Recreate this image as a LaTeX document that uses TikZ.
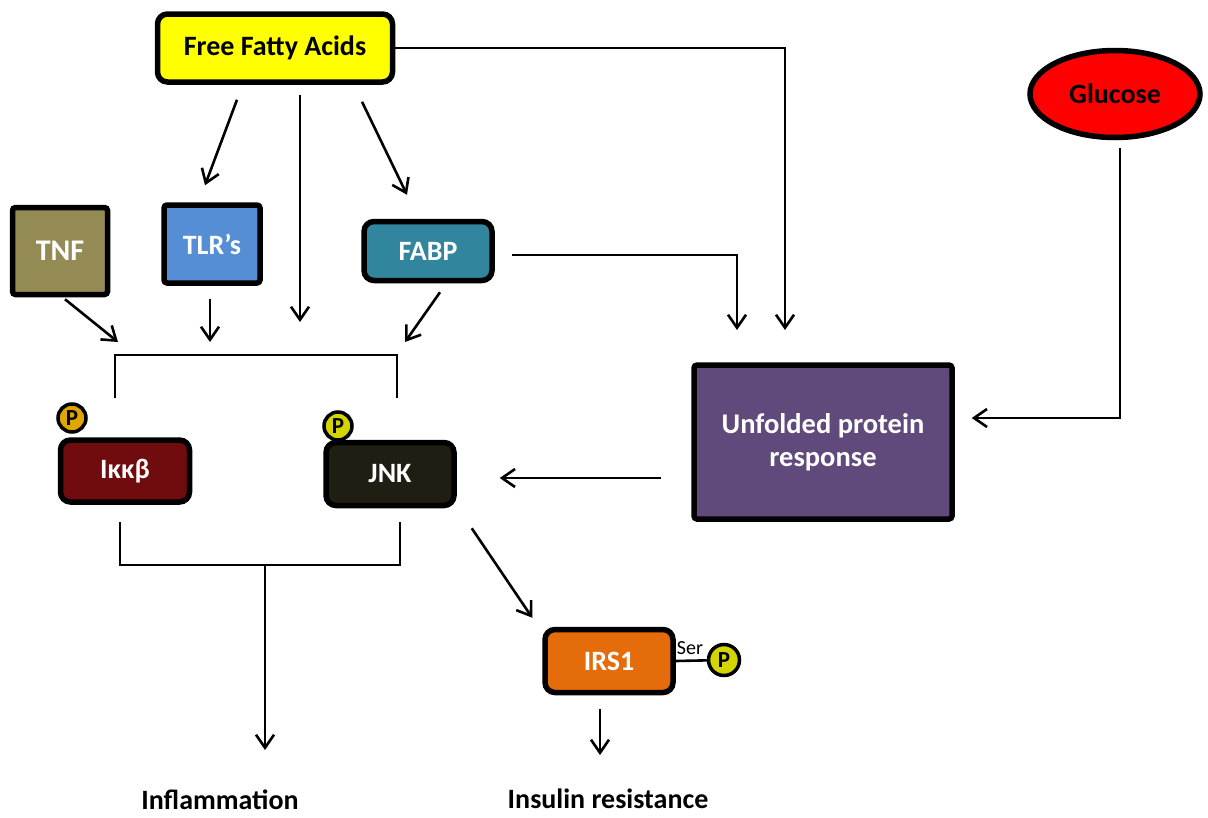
\documentclass[tikz,border=0pt]{standalone}
\usepackage{fontspec}
\setmainfont{Carlito}
\usetikzlibrary{arrows.meta,shapes.geometric}

\definecolor{ffacol}{RGB}{255,255,0}
\definecolor{glucol}{RGB}{255,0,0}
\definecolor{tnfcol}{RGB}{148,138,84}
\definecolor{tlrcol}{RGB}{85,142,213}
\definecolor{fabpcol}{RGB}{49,133,156}
\definecolor{uprcol}{RGB}{96,74,123}
\definecolor{ikkcol}{RGB}{112,12,14}
\definecolor{jnkcol}{RGB}{32,29,18}
\definecolor{irscol}{RGB}{228,108,10}
\definecolor{pgold}{RGB}{225,165,0}
\definecolor{pyel}{RGB}{212,212,0}

\tikzset{
  box/.style={draw=black, line width=5.5pt, rounded corners=10pt, text=white,
    font=\bfseries\fontsize{28}{32}\selectfont},
  sqbox/.style={box, rounded corners=3pt},
  pbubble/.style={circle, draw=black, line width=3.5pt, inner sep=0pt,
    minimum size=28pt, font=\bfseries\fontsize{23}{25}\selectfont},
  outtext/.style={inner sep=1pt, font=\bfseries\fontsize{28}{32}\selectfont},
  line/.style={line width=2.6pt},
  arr/.style={line, -{Straight Barb[length=13pt,width=18pt]}}
}

\begin{document}
\begin{tikzpicture}[x=1pt,y=-1pt]
\useasboundingbox (0,0) rectangle (1208,817);

% Top sources
\node[box, fill=ffacol, text=black, minimum width=235pt, minimum height=68pt] (ffa) at (275,48) {Free Fatty Acids};
\node[ellipse, draw=black, line width=5.5pt, fill=glucol, minimum width=170pt, minimum height=87pt,
  font=\bfseries\fontsize{28}{32}\selectfont] (glu) at (1115,94) {Glucose};

% Receptors / carriers
\node[sqbox, fill=tnfcol, minimum width=95pt, minimum height=87pt, font=\bfseries\fontsize{30}{34}\selectfont] (tnf) at (60,251) {TNF};
\node[sqbox, fill=tlrcol, minimum width=96pt, minimum height=78pt] (tlr) at (212,244) {TLR’s};
\node[box, fill=fabpcol, minimum width=128pt, minimum height=59pt] (fabp) at (428,251) {FABP};

% ER stress
\node[sqbox, fill=uprcol, minimum width=258pt, minimum height=154pt, align=center,
  font=\bfseries\fontsize{28.5}{33}\selectfont] (upr) at (823,442) {Unfolded protein\\response};

% Kinases
\node[box, fill=ikkcol, minimum width=129pt, minimum height=62pt] (ikk) at (125,471) {Iκκβ};
\node[box, fill=jnkcol, minimum width=128pt, minimum height=63pt] (jnk) at (390,474) {JNK};
\node[box, fill=irscol, minimum width=128pt, minimum height=63pt] (irs) at (609,661) {IRS1};

% Phosphates
\node[pbubble, fill=pgold] (pikk) at (72,418) {P};
\node[pbubble, fill=pyel] (pjnk) at (338,426) {P};
\node[pbubble, fill=pyel, minimum size=31pt] (pirs) at (724,660) {P};
\node[font=\fontsize{20}{22}\selectfont] (ser) at (690,648) {Ser};
\draw[line] (irs.east) -- (pirs);

% Outcomes
\node[outtext] (infl) at (220,800) {Inflammation};
\node[outtext] (insres) at (608,799) {Insulin resistance};

% Arrow ends
\coordinate (ffaend) at (300,322);
\coordinate (tnfend) at (118,342);
\coordinate (tlrend) at (210,342);
\coordinate (fabpend) at (405,342);
\coordinate (ffaupr) at (785,330);
\coordinate (fabpupr) at (737,330);
\coordinate (irsend) at (600,755);
\coordinate (inflend) at (265,750);

% Upper bracket
\coordinate (ubl) at (115,398);
\coordinate (utl) at (115,355);
\coordinate (utr) at (397,355);
\coordinate (ubr) at (397,398);
\draw[line] (ubl) -- (utl) -- (utr) -- (ubr);

% Lower bracket
\coordinate (ltl) at (120,522);
\coordinate (lbl) at (120,565);
\coordinate (lbr) at (400,565);
\coordinate (ltr) at (400,522);
\coordinate (lmid) at (265,565);
\draw[line] (ltl) -- (lbl) -- (lbr) -- (ltr);

% FFA arrows
\draw[arr] ([xshift=-38pt,yshift=-15pt]ffa.south) -- ([xshift=-7pt,yshift=17pt]tlr.north);
\draw[arr] ([xshift=25pt,yshift=-10pt]ffa.south) -- (ffaend);
\draw[arr] ([xshift=87pt,yshift=-17pt]ffa.south) -- ([xshift=-21pt,yshift=24pt]fabp.north);
\draw[arr] (ffa.east) -| (ffaupr);

% Into the upper bracket
\draw[arr] ([xshift=5pt,yshift=-2pt]tnf.south) -- (tnfend);
\draw[arr] ([xshift=-2pt,yshift=-13pt]tlr.south) -- (tlrend);
\draw[arr] ([xshift=12pt,yshift=-9pt]fabp.south) -- (fabpend);

% Into UPR and out of it
\draw[arr] ([xshift=17pt,yshift=-4pt]fabp.east) -| (fabpupr);
\draw[arr] ([xshift=5pt,yshift=-8pt]glu.south) |- ([xshift=17pt,yshift=24pt]upr.east);
\draw[arr] ([xshift=-30pt,yshift=-36pt]upr.west) -- ([xshift=43pt,yshift=-4pt]jnk.east);

% Downstream
\draw[arr] ([xshift=15pt,yshift=-20pt]jnk.south east) -- ([xshift=-10pt,yshift=9pt]irs.north west);
\draw[arr] ([xshift=-9pt,yshift=-14pt]irs.south) -- (irsend);
\draw[arr] (lmid) -- (inflend);
\end{tikzpicture}
\end{document}
